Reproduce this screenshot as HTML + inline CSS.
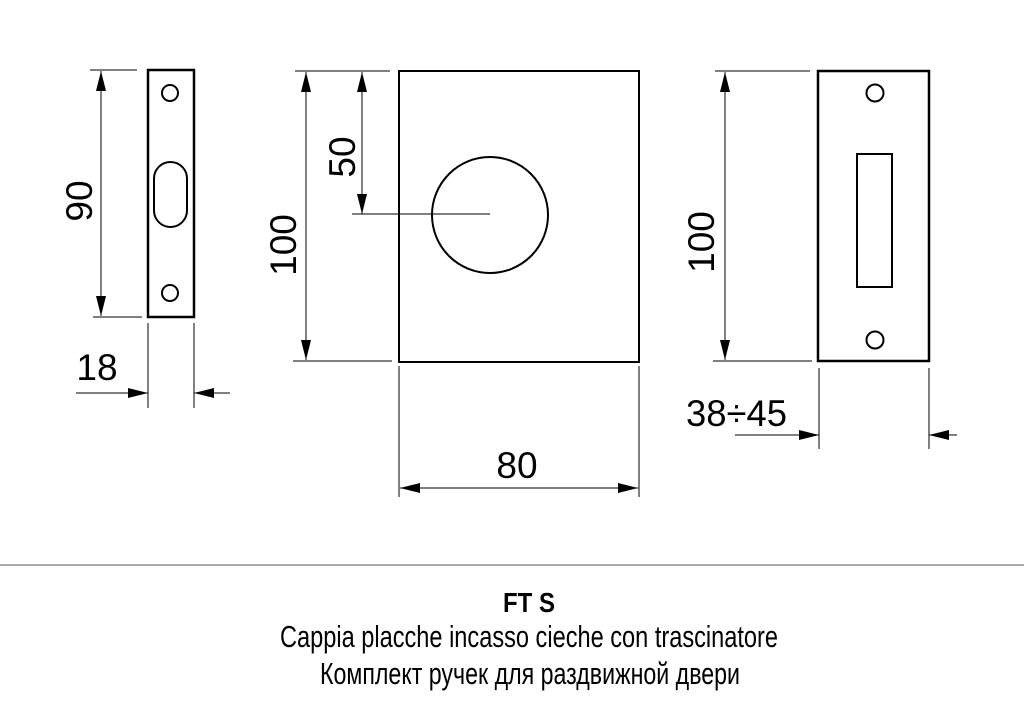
<!DOCTYPE html>
<html><head><meta charset="utf-8"><style>
html,body{margin:0;padding:0;background:#fff;}
svg{display:block}
</style></head><body>
<svg width="1024" height="714" viewBox="0 0 1024 714" xmlns="http://www.w3.org/2000/svg">
<defs>
<marker id="a" viewBox="0 0 20 10" refX="20" refY="5" markerWidth="20" markerHeight="10" markerUnits="userSpaceOnUse" orient="auto-start-reverse"><path d="M0,0 L20,5 L0,10 Z" fill="#000"/></marker>
</defs>
<g stroke="#000" fill="none">
<rect x="148" y="70" width="46" height="247" stroke-width="2.5"/>
<circle cx="170" cy="93" r="8" stroke-width="2"/>
<circle cx="170" cy="293" r="8" stroke-width="2"/>
<rect x="154" y="162" width="33" height="65" rx="16.5" stroke-width="2"/>
<line x1="90" y1="70" x2="137" y2="70" stroke-width="1"/>
<line x1="93" y1="317" x2="142" y2="317" stroke-width="1"/>
<line x1="101" y1="71" x2="101" y2="316" stroke-width="1" marker-start="url(#a)" marker-end="url(#a)"/>
<line x1="148" y1="323" x2="148" y2="408" stroke-width="1"/>
<line x1="194" y1="323" x2="194" y2="408" stroke-width="1"/>
<line x1="76" y1="393" x2="148" y2="393" stroke-width="1" marker-end="url(#a)"/>
<line x1="194" y1="393" x2="230" y2="393" stroke-width="1" marker-start="url(#a)"/>
<rect x="399" y="71" width="240" height="291" stroke-width="2"/>
<circle cx="490" cy="215" r="58" stroke-width="2"/>
<line x1="295" y1="71" x2="390" y2="71" stroke-width="1"/>
<line x1="293" y1="361" x2="392" y2="361" stroke-width="1"/>
<line x1="306" y1="72" x2="306" y2="360" stroke-width="1" marker-start="url(#a)" marker-end="url(#a)"/>
<line x1="362" y1="72" x2="362" y2="214" stroke-width="1" marker-start="url(#a)" marker-end="url(#a)"/>
<line x1="352" y1="214" x2="490" y2="214" stroke-width="1"/>
<line x1="399" y1="366" x2="399" y2="497" stroke-width="1"/>
<line x1="639" y1="366" x2="639" y2="497" stroke-width="1"/>
<line x1="400" y1="488" x2="638" y2="488" stroke-width="1" marker-start="url(#a)" marker-end="url(#a)"/>
<rect x="818" y="71" width="111" height="290" stroke-width="2.5"/>
<circle cx="875" cy="93" r="8.5" stroke-width="2"/>
<circle cx="875" cy="340" r="8.5" stroke-width="2"/>
<rect x="857" y="154" width="35" height="133" stroke-width="2"/>
<line x1="715" y1="71" x2="810" y2="71" stroke-width="1"/>
<line x1="713" y1="361" x2="812" y2="361" stroke-width="1"/>
<line x1="725" y1="72" x2="725" y2="360" stroke-width="1" marker-start="url(#a)" marker-end="url(#a)"/>
<line x1="819" y1="368" x2="819" y2="449" stroke-width="1"/>
<line x1="929" y1="368" x2="929" y2="449" stroke-width="1"/>
<line x1="735" y1="435" x2="819" y2="435" stroke-width="1" marker-end="url(#a)"/>
<line x1="929" y1="435" x2="957" y2="435" stroke-width="1" marker-start="url(#a)"/>
<line x1="0" y1="565" x2="1024" y2="565" stroke="#555" stroke-width="1"/>
</g>
<g font-family="'Liberation Sans', sans-serif" fill="#000" font-size="37">
<text text-anchor="middle" transform="translate(92 201) rotate(-90)">90</text>
<text x="97" y="380" text-anchor="middle">18</text>
<text text-anchor="middle" transform="translate(296 245) rotate(-90)">100</text>
<text text-anchor="middle" transform="translate(355 157) rotate(-90)">50</text>
<text x="517" y="478" text-anchor="middle">80</text>
<text text-anchor="middle" transform="translate(714 242) rotate(-90)">100</text>
<text x="686" y="426" textLength="101" lengthAdjust="spacingAndGlyphs">38÷45</text>
</g>
<g font-family="'Liberation Sans Narrow','Liberation Sans', sans-serif" fill="#000">
<text x="503" y="612" font-size="28" font-weight="bold" textLength="52" lengthAdjust="spacingAndGlyphs">FT S</text>
<text x="280" y="647" font-size="31" textLength="498" lengthAdjust="spacingAndGlyphs">Cappia placche incasso cieche con trascinatore</text>
<text x="320" y="684" font-size="31" textLength="420" lengthAdjust="spacingAndGlyphs">Комплект ручек для раздвижной двери</text>
</g>
</svg>
</body></html>
